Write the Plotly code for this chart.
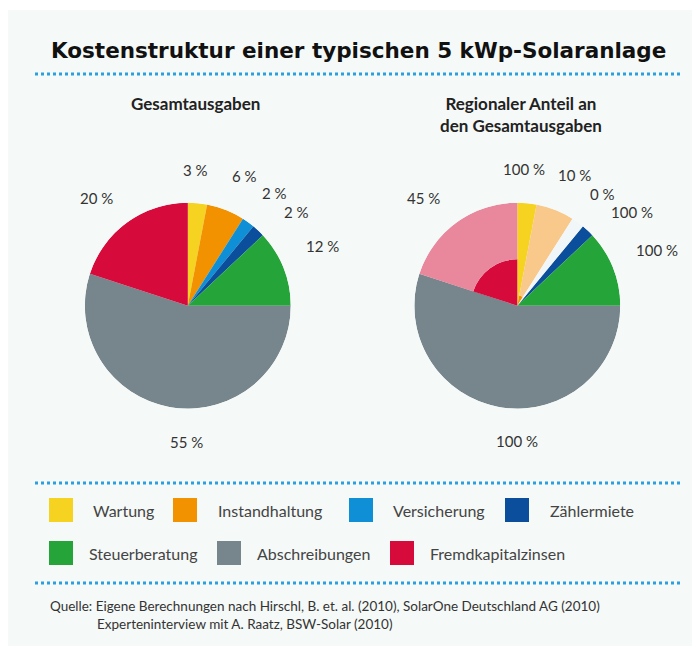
import numpy as np
import plotly.graph_objects as go

W, H = 692, 646

# ---------------- data ----------------
categories = ["Wartung", "Instandhaltung", "Versicherung", "Zählermiete",
              "Steuerberatung", "Abschreibungen", "Fremdkapitalzinsen"]
total_share = [3, 6, 2, 2, 12, 55, 20]          # % of total costs
regional_share = [100, 10, 0, 100, 100, 100, 45]  # % regional within each item

title_text = "Kostenstruktur einer typischen 5 kWp-Solaranlage"
subtitle_left = "Gesamtausgaben"
subtitle_right = "Regionaler Anteil an<br>den Gesamtausgaben"
source_lines = ["Quelle: Eigene Berechnungen nach Hirschl, B. et. al. (2010), SolarOne Deutschland AG (2010)",
                "Experteninterview mit A. Raatz, BSW-Solar (2010)"]

# ---------------- styles ----------------
colors = ["#f6d320", "#f39200", "#0f8fd6", "#0b4e9b", "#25a43a", "#77858d", "#d60b3c"]
light_colors = ["#f9e58a", "#f9c98b", "#f1f7f8", "#7fa4cf", "#8fd19c", "#b5bec3", "#e9889c"]

FONT = "Lato, 'Open Sans', sans-serif"
BG = "#f5f9f7"
DOT = "#2b9fe0"

# pie geometry (pixels)
L_CX, L_CY, R_RAD = 187.8, 305.7, 103.0
R_CX, R_CY = 517.3, 305.7
LABEL_R = 138
left_dx = [-5, 6, 6, 14, 6, 20, -10]
left_dy = [2, -1, -1, 7, -9, 0, 4]
right_dx = [-6, 6, 4, 20, 11, 21, -13]
right_dy = [1, -2, 0, 7, -5, -1, 4]


def px(x):
    return x / W


def py(y):
    return 1 - y / H


share = np.array(total_share, dtype=float)
start = np.concatenate([[0], np.cumsum(share)[:-1]])
mid_deg = (start + share / 2) * 3.6
width_deg = share * 3.6
reg = np.array(regional_share, dtype=float) / 100.0

fig = go.Figure()

# left pie: total costs
fig.add_trace(go.Barpolar(
    r=[1] * len(categories), theta=mid_deg, width=width_deg,
    marker=dict(color=colors, line=dict(width=0)),
    name="Gesamtausgaben", subplot="polar", showlegend=False,
    hovertext=categories, hoverinfo="text"))

# right pie: regional part (inner) and non-regional part (outer)
fig.add_trace(go.Barpolar(
    r=reg, theta=mid_deg, width=width_deg,
    marker=dict(color=colors, line=dict(width=0)),
    name="regional", subplot="polar2", showlegend=False,
    hovertext=categories, hoverinfo="text"))
fig.add_trace(go.Barpolar(
    r=1 - reg, theta=mid_deg, width=width_deg,
    marker=dict(color=light_colors, line=dict(width=0)),
    name="nicht regional", subplot="polar2", showlegend=False,
    hovertext=categories, hoverinfo="text"))


def polar_layout(cx, cy):
    return dict(
        domain=dict(x=[px(cx - R_RAD), px(cx + R_RAD)], y=[py(cy + R_RAD), py(cy - R_RAD)]),
        radialaxis=dict(visible=False, range=[0, 1]),
        angularaxis=dict(visible=False, rotation=90, direction="clockwise"),
        bgcolor="rgba(0,0,0,0)", barmode="stack", bargap=0, hole=0)


shapes = []
annotations = []

# panel background
shapes.append(dict(type="rect", xref="paper", yref="paper", x0=px(8), x1=1, y0=0, y1=py(10),
                   fillcolor=BG, line=dict(width=0), layer="below"))

# dotted separators
for yy in [74, 483, 583]:
    shapes.append(dict(type="line", xref="paper", yref="paper", x0=px(35), x1=px(680),
                       y0=py(yy), y1=py(yy), line=dict(color=DOT, width=3, dash="3px,3px")))

# title & subtitles
annotations.append(dict(text="<b>" + title_text + "</b>", x=px(358), y=py(50), xref="paper",
                        yref="paper", showarrow=False, xanchor="center", yanchor="middle",
                        font=dict(family="DejaVu Sans", size=21.5, color="#111111")))
annotations.append(dict(text="<b>" + subtitle_left + "</b>", x=px(195), y=py(103), xref="paper",
                        yref="paper", showarrow=False, xanchor="center", yanchor="middle",
                        font=dict(family=FONT, size=17, color="#222222")))
annotations.append(dict(text="<b>" + subtitle_right.replace("<br>", "</b><br><b>") + "</b>",
                        x=px(521), y=py(114), xref="paper", yref="paper", showarrow=False,
                        xanchor="center", yanchor="middle",
                        font=dict(family=FONT, size=17, color="#222222")))

# percentage labels
for i in range(len(categories)):
    a = np.deg2rad(mid_deg[i])
    for cx, cy, txt, dxs, dys in [(L_CX, L_CY, f"{total_share[i]} %", left_dx, left_dy),
                                  (R_CX, R_CY, f"{regional_share[i]} %", right_dx, right_dy)]:
        x = cx + LABEL_R * np.sin(a) + dxs[i]
        y = cy - LABEL_R * np.cos(a) + dys[i]
        annotations.append(dict(text=txt, x=px(x), y=py(y), xref="paper", yref="paper",
                                showarrow=False, xanchor="center", yanchor="middle",
                                font=dict(family=FONT, size=15, color="#333333")))

# legend (custom)
leg_sq_x = [49, 173, 349, 505, 49, 217, 390]
leg_sq_y = [498, 498, 498, 498, 541, 541, 541]
leg_gap = [18, 19, 18, 19, 14, 14, 14]
for i, name in enumerate(categories):
    x0, y0 = leg_sq_x[i], leg_sq_y[i]
    shapes.append(dict(type="rect", xref="paper", yref="paper", x0=px(x0), x1=px(x0 + 24),
                       y0=py(y0 + 24), y1=py(y0), fillcolor=colors[i], line=dict(width=0)))
    annotations.append(dict(text=name, x=px(x0 + 24 + leg_gap[i]), y=py(y0 + 12.5), xref="paper",
                            yref="paper", showarrow=False, xanchor="left", yanchor="middle",
                            font=dict(family=FONT, size=16, color="#444444")))

# source
annotations.append(dict(text=source_lines[0], x=px(48), y=py(606), xref="paper", yref="paper",
                        showarrow=False, xanchor="left", yanchor="middle",
                        font=dict(family=FONT, size=13.5, color="#333333")))
annotations.append(dict(text=source_lines[1], x=px(95), y=py(624), xref="paper", yref="paper",
                        showarrow=False, xanchor="left", yanchor="middle",
                        font=dict(family=FONT, size=13.5, color="#333333")))

fig.update_layout(
    width=W, height=H, margin=dict(l=0, r=0, t=0, b=0),
    paper_bgcolor="white", plot_bgcolor="white",
    polar=polar_layout(L_CX, L_CY), polar2=polar_layout(R_CX, R_CY),
    shapes=shapes, annotations=annotations, showlegend=False)

fig.write_html("out.html", config={"displayModeBar": False},
               post_script="document.body.style.margin='0';document.body.style.overflow='hidden';")
